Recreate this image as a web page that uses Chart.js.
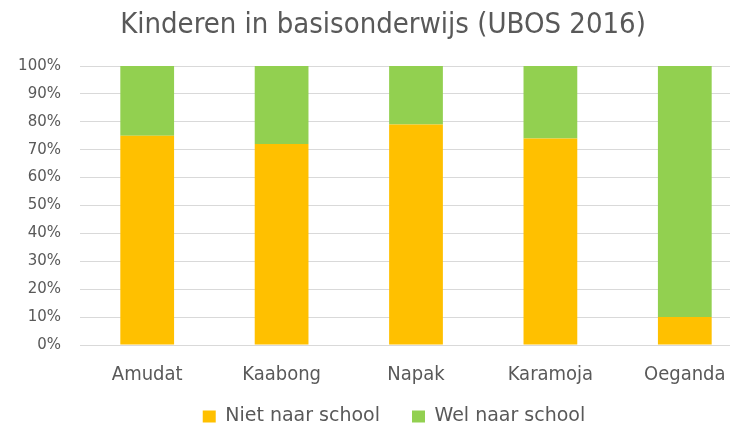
<!DOCTYPE html>
<html>
<head>
<meta charset="utf-8">
<script src="https://cdn.jsdelivr.net/npm/chart.js@4.4.1/dist/chart.umd.min.js"></script>
<style>
  html, body { margin: 0; padding: 0; background: #fff; }
  #wrap { width: 730px; height: 428px; overflow: hidden; position: relative; }
  #chart { position: absolute; left: 0; top: 0; }
</style>
</head>
<body>
<div id="wrap">
  <canvas id="chart" width="752" height="454"></canvas>
</div>
<script>
const titleText = "Kinderen in basisonderwijs (UBOS 2016)";
const regions = ["Amudat", "Kaabong", "Napak", "Karamoja", "Oeganda"];
const nietNaarSchool = [75, 72, 79, 74, 10];
const welNaarSchool = [25, 28, 21, 26, 90];
const seriesNames = ["Niet naar school", "Wel naar school"];

const FONT = "'DejaVu Sans Condensed', 'DejaVu Sans', sans-serif";
const GREY = "#595959";

// nudges title and legend to where they sit in the original picture
const shiftBoxes = {
    id: "shiftBoxes",
    afterLayout(chart) {
        const lg = chart.legend;
        lg.left += 18; lg.right += 18;
        lg.top -= 18; lg.bottom -= 18;
        const t = chart.titleBlock;
        t.left += 7; t.right += 7;
    },
};

new Chart(document.getElementById("chart"), {
    type: "bar",
    data: {
        labels: regions,
        datasets: [
            {
                label: seriesNames[0],
                data: nietNaarSchool,
                backgroundColor: "#FFC000",
            },
            {
                label: seriesNames[1],
                data: welNaarSchool,
                backgroundColor: "#92D050",
            },
        ],
    },
    options: {
        responsive: false,
        animation: false,
        barPercentage: 0.4,
        categoryPercentage: 1,
        layout: { padding: 0 },
        scales: {
            x: {
                stacked: true,
                grid: { display: false },
                border: { display: false },
                ticks: { color: GREY, font: { family: FONT, size: 20 }, padding: 10 },
                afterFit(scale) { scale.height = 48; },
            },
            y: {
                stacked: true,
                min: 0,
                max: 100,
                grid: { color: "#D9D9D9", drawTicks: false },
                border: { display: false },
                ticks: {
                    stepSize: 10,
                    color: GREY,
                    padding: 19,
                    font: { family: "'DejaVu Sans', sans-serif", size: 15 },
                    callback: v => v + "%",
                },
                afterFit(scale) { scale.width = 80; },
            },
        },
        plugins: {
            title: {
                display: true,
                text: titleText,
                color: GREY,
                font: { family: FONT, size: 29, weight: "normal" },
                padding: { top: 8, bottom: 23.2 },
            },
            legend: {
                position: "bottom",
                labels: {
                    color: GREY,
                    font: { family: "'DejaVu Sans', sans-serif", size: 19 },
                    boxWidth: 13,
                    boxHeight: 12,
                    padding: 32,
                },
            },
            tooltip: { enabled: false },
        },
    },
    plugins: [shiftBoxes],
});
</script>
</body>
</html>
